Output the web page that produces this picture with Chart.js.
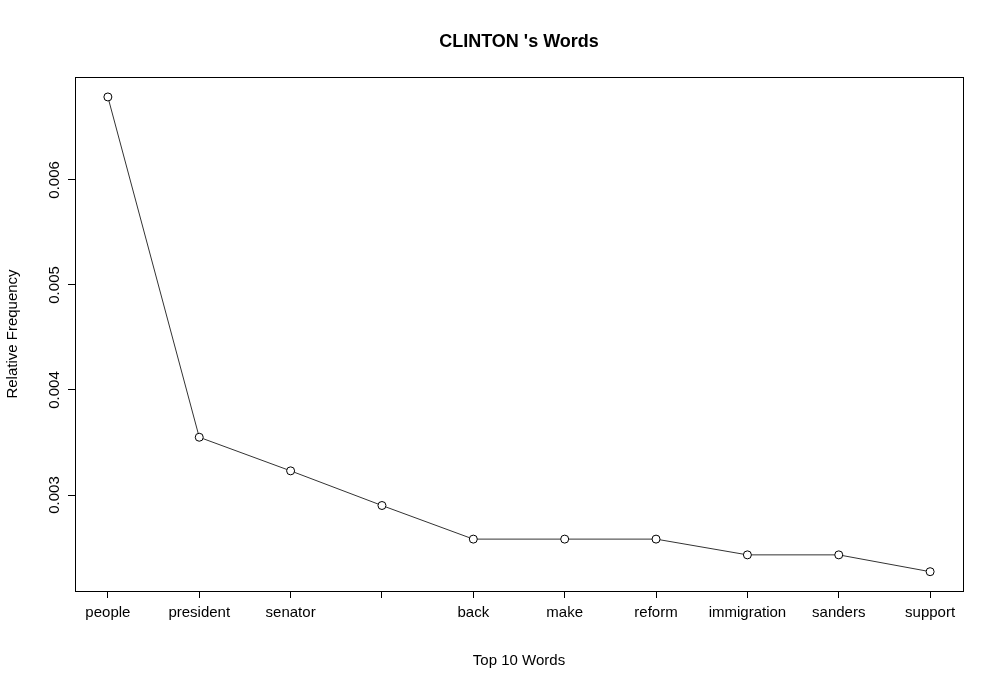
<!DOCTYPE html>
<html>
<head>
<meta charset="utf-8">
<script src="https://cdn.jsdelivr.net/npm/chart.js@4/dist/chart.umd.min.js"></script>
<style>body{margin:0;background:#fff}</style>
</head>
<body>
<canvas id="c" width="1000" height="690"></canvas>
<script>
var words = ["people", "president", "senator", "", "back", "make", "reform", "immigration", "sanders", "support"];
var freqs = [0.00679, 0.00355, 0.00323, 0.00290, 0.00258, 0.00258, 0.00258, 0.00243, 0.00243, 0.00227];
var yTicks = [0.003, 0.004, 0.005, 0.006];
var FONT = "'Liberation Sans', Arial, sans-serif";

var decor = {
    id: 'decor',
    afterDraw: function(chart) {
        var ctx = chart.ctx, a = chart.chartArea, y = chart.scales.y;
        ctx.save();
        ctx.strokeStyle = '#000';
        ctx.lineWidth = 1;
        ctx.strokeRect(a.left + 0.5, a.top + 0.5, a.right - a.left, a.bottom - a.top);
        ctx.fillStyle = '#000';
        ctx.font = 'bold 18px ' + FONT;
        ctx.textAlign = 'center';
        ctx.textBaseline = 'middle';
        ctx.fillText("CLINTON 's Words", 519, 42);
        ctx.font = '15px ' + FONT;
        ctx.fillText('Top 10 Words', 519, 661);
        // rotated y tick labels
        yTicks.forEach(function(v) {
            ctx.save();
            ctx.translate(55, y.getPixelForValue(v));
            ctx.rotate(-Math.PI / 2);
            ctx.fillText(v.toFixed(3), 0, 0);
            ctx.restore();
        });
        ctx.save();
        ctx.translate(13, 334);
        ctx.rotate(-Math.PI / 2);
        ctx.fillText('Relative Frequency', 0, 0);
        ctx.restore();
        ctx.restore();
    }
};

new Chart(document.getElementById('c'), {
    type: 'line',
    data: {
        datasets: [{
            data: freqs.map(function(v, i) { return {x: i + 1, y: v}; }),
            borderColor: '#333',
            borderWidth: 1,
            pointRadius: 4,
            pointBackgroundColor: '#fff',
            pointBorderColor: '#000',
            pointBorderWidth: 1,
            tension: 0
        }]
    },
    options: {
        responsive: false,
        devicePixelRatio: 1,
        animation: false,
        layout: {padding: {top: 77, right: 37, left: 0, bottom: 0}},
        plugins: {legend: {display: false}, tooltip: {enabled: false}},
        scales: {
            x: {
                type: 'linear',
                min: 0.64, max: 10.36,
                afterBuildTicks: function(s) { s.ticks = words.map(function(w, i) { return {value: i + 1}; }); },
                afterFit: function(s) { s.height = 99; },
                ticks: {
                    autoSkip: false, maxRotation: 0, padding: 6,
                    color: '#000', font: {size: 15, family: FONT},
                    callback: function(v) { return words[v - 1]; }
                },
                grid: {drawOnChartArea: false, tickLength: 7, color: '#000'},
                border: {display: false}
            },
            y: {
                min: 0.002086, max: 0.00698,
                afterBuildTicks: function(s) { s.ticks = yTicks.map(function(v) { return {value: v}; }); },
                afterFit: function(s) { s.width = 75; },
                ticks: {display: false},
                grid: {drawOnChartArea: false, tickLength: 7, color: '#000'},
                border: {display: false}
            }
        }
    },
    plugins: [decor]
});
</script>
</body>
</html>
